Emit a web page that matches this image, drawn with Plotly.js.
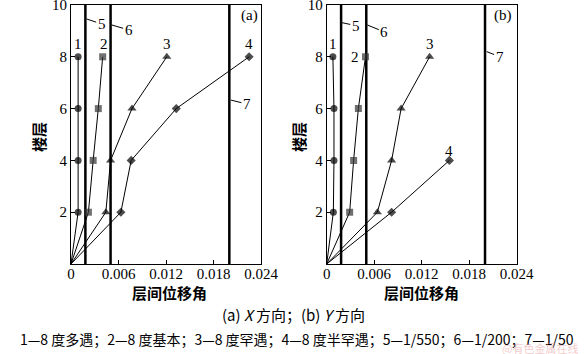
<!DOCTYPE html>
<html><head><meta charset="utf-8">
<script src="https://cdn.plot.ly/plotly-3.0.1.min.js"></script>
<style>html,body{margin:0;padding:0;background:#fff}#c{width:584px;height:354px}</style>
</head><body><div id="c"></div>
<script>
// storeys
const floors = [0, 2, 4, 6, 8];
const floorsB4 = [0, 2, 4];
// (a) X direction drift ratios (origin included)
const aS1 = [0, 0.0009, 0.0009, 0.0009, 0.0009];
const aS2 = [0, 0.0022, 0.0028, 0.00345, 0.0040];
const aS3 = [0, 0.0044, 0.0050, 0.0077, 0.0121];
const aS4 = [0, 0.0063, 0.0076, 0.0133, 0.0225];
// (b) Y direction
const bS1 = [0, 0.00084, 0.00092, 0.00092, 0.00078];
const bS2 = [0, 0.0029, 0.0034, 0.0040, 0.0049];
const bS3 = [0, 0.0064, 0.0082, 0.0094, 0.0130];
const bS4 = [0, 0.0082, 0.0155];
// limit lines 5: 1/550, 6: 1/200, 7: 1/50
const limits = [1/550, 1/200, 1/50];
const limitWidths = [2.5, 2.5, 2.5];
const xTicks = [0, 0.006, 0.012, 0.018, 0.024];
const xTickText = ['0', '0.006', '0.012', '0.018', '0.024'];
const yTicks = [2, 4, 6, 8, 10];

const serif = "'Liberation Serif', 'Times New Roman', serif";
const cjk = "'Noto Sans CJK SC', sans-serif";

function series(x, y, sym, size, color, xa, ya) {
  const sizes = x.map((v, i) => i === 0 ? 0 : size);
  return {x: x, y: y, xaxis: xa, yaxis: ya, mode: 'lines+markers', type: 'scatter',
    line: {color: '#000', width: 1},
    marker: {symbol: sym, size: sizes, color: color, line: {width: 0}},
    showlegend: false, hoverinfo: 'skip'};
}
function limitTrace(v, w, xa, ya) {
  return {x: [v, v], y: [0, 10], xaxis: xa, yaxis: ya, mode: 'lines', type: 'scatter',
    line: {color: '#000', width: w}, showlegend: false, hoverinfo: 'skip'};
}
const traces = [];
limits.forEach((v, i) => { traces.push(limitTrace(v, limitWidths[i], 'x', 'y')); traces.push(limitTrace(v, limitWidths[i], 'x2', 'y2')); });
traces.push(series(aS1, floors, 'circle', 7, '#000', 'x', 'y'));
traces.push(series(aS2, floors, 'square', 7, '#333', 'x', 'y'));
traces.push(series(aS3, floors, 'triangle-up', 8, '#000', 'x', 'y'));
traces.push(series(aS4, floors, 'diamond', 7, '#000', 'x', 'y'));
traces.push(series(bS1, floors, 'circle', 7, '#000', 'x2', 'y2'));
traces.push(series(bS2, floors, 'square', 7, '#333', 'x2', 'y2'));
traces.push(series(bS3, floors, 'triangle-up', 8, '#000', 'x2', 'y2'));
traces.push(series(bS4, floorsB4, 'diamond', 7, '#000', 'x2', 'y2'));

const W = 584, H = 354;
const yDom = [(H - 264) / H, (H - 5) / H];
function xa(dom) {
  return {domain: dom, range: [0, 0.024], tickvals: xTicks, ticktext: xTickText,
    ticks: 'inside', ticklen: 4, tickcolor: '#000', showgrid: false, zeroline: false,
    showline: true, linecolor: '#000', linewidth: 1, mirror: true, ticklabeloverflow: 'allow',
    ticklabelstandoff: -4,
    tickfont: {family: serif, size: 15, color: '#000'}, fixedrange: true};
}
function ya(dom, anchor) {
  return {domain: dom, anchor: anchor, range: [0, 10], tickvals: yTicks,
    ticks: 'inside', ticklen: 4, tickcolor: '#000', showgrid: false, zeroline: false,
    showline: true, linecolor: '#000', linewidth: 1, mirror: true, ticklabeloverflow: 'allow',
    tickfont: {family: serif, size: 15, color: '#000'}, fixedrange: true};
}
function lbl(t, x, y, xref, yref) {
  return {text: t, x: x, y: y, xref: xref, yref: yref, showarrow: false,
    xanchor: 'center', yanchor: 'middle',
    font: {family: serif, size: 15, color: '#000'}};
}
function lead(t, x, y, xref, yref, ax, ay) {
  return {text: t, x: x, y: y, xref: xref, yref: yref, showarrow: true, arrowhead: 0,
    arrowwidth: 1, arrowcolor: '#000', ax: ax, ay: ay, standoff: 0,
    font: {family: serif, size: 15, color: '#000'}};
}
function ptxt(t, px, py, size, extra) {
  return Object.assign({text: t, x: px / W, y: (H - py) / H, xref: 'paper', yref: 'paper', showarrow: false,
    xanchor: 'center', yanchor: 'middle', font: {family: cjk, size: size, color: '#000'}}, extra || {});
}
const ann = [
  lbl('1', 0.0009, 8.5, 'x', 'y'), lbl('2', 0.0042, 8.5, 'x', 'y'),
  lbl('3', 0.0121, 8.5, 'x', 'y'), lbl('4', 0.0225, 8.5, 'x', 'y'),
  lbl('(a)', 0.0226, 9.58, 'x', 'y'),
  lead('5', 0.00198, 9.46, 'x', 'y', 15, 5),
  lead('6', 0.00514, 9.23, 'x', 'y', 17, 5),
  lead('7', 0.0202, 6.33, 'x', 'y', 16, 4),
  lbl('1', 0.0008, 8.5, 'x2', 'y2'), lbl('2', 0.0036, 8.0, 'x2', 'y2'),
  lbl('3', 0.0130, 8.5, 'x2', 'y2'), lbl('4', 0.0154, 4.36, 'x2', 'y2'),
  lbl('(b)', 0.0223, 9.58, 'x2', 'y2'),
  lead('5', 0.0019, 9.32, 'x2', 'y2', 14, 3),
  lead('6', 0.00513, 9.23, 'x2', 'y2', 17, 7),
  lead('7', 0.0202, 8.2, 'x2', 'y2', 13, 5),
  ptxt('楼层', 38, 137, 15, {textangle: -90, font: {family: cjk, size: 15, color: '#000', weight: 'bold'}}),
  ptxt('楼层', 298, 137, 15, {textangle: -90, font: {family: cjk, size: 15, color: '#000', weight: 'bold'}}),
  ptxt('层间位移角', 169, 292, 15, {font: {family: cjk, size: 15, color: '#000', weight: 'bold'}}),
  ptxt('层间位移角', 421, 292, 15, {font: {family: cjk, size: 15, color: '#000', weight: 'bold'}}),
  ptxt('(a) <i>X</i> 方向；(b) <i>Y</i> 方向', 293, 314, 15),
  ptxt('1—8 度多遇；2—8 度基本；3—8 度罕遇；4—8 度半罕遇；5—1/550；6—1/200；7—1/50', 297, 339, 14),
  ptxt('@有色金属在线', 540, 348, 11, {font: {family: cjk, size: 11, color: 'rgba(230,150,150,0.5)'}})
];
const layout = {
  width: W, height: H, margin: {l: 0, r: 0, t: 0, b: 0},
  paper_bgcolor: '#fff', plot_bgcolor: '#fff', showlegend: false,
  xaxis: Object.assign(xa([71 / W, 261 / W]), {anchor: 'y'}),
  yaxis: ya(yDom, 'x'),
  xaxis2: Object.assign(xa([326.7 / W, 516.7 / W]), {anchor: 'y2'}),
  yaxis2: ya(yDom, 'x2'),
  annotations: ann
};
Plotly.newPlot('c', traces, layout, {staticPlot: true, displayModeBar: false});
</script></body></html>
